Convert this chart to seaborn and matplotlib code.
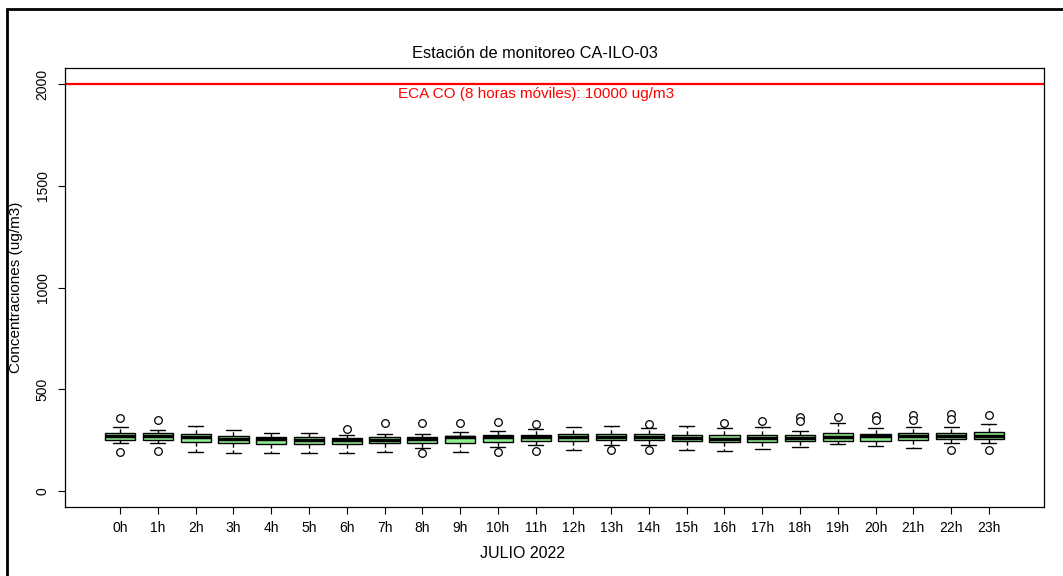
import pandas as pd
import matplotlib.pyplot as plt
import seaborn as sns

# --- Box statistics (ug/m3) ---
hours = [f"{h}h" for h in range(24)]
whisker_low = [233, 233, 193, 188, 187, 185, 187, 190, 210, 190, 215, 224,
               200, 226, 226, 201, 196, 203, 215, 228, 221, 210, 234, 234]
q1 = [252, 249, 242, 234, 229, 229, 228, 234, 236, 236, 241, 246,
      246, 249, 249, 244, 241, 241, 244, 244, 247, 252, 255, 254]
median = [270, 267, 262, 257, 254, 252, 250, 252, 257, 264, 265, 265,
          264, 265, 265, 259, 257, 259, 260, 265, 270, 267, 270, 270]
q3 = [285, 282, 277, 270, 262, 264, 259, 264, 265, 270, 272, 273,
      278, 278, 278, 273, 272, 273, 273, 282, 280, 282, 283, 287]
whisker_high = [316, 300, 321, 301, 285, 282, 275, 277, 278, 288, 296, 303,
                316, 321, 311, 321, 308, 316, 295, 331, 308, 316, 316, 329]

# outliers (hour, value)
outlier_hours = ["0h", "0h", "1h", "1h", "6h", "7h", "8h", "8h", "9h", "10h", "10h",
                 "11h", "11h", "13h", "14h", "14h", "16h", "17h", "18h", "18h",
                 "19h", "20h", "20h", "21h", "21h", "22h", "22h", "22h", "23h", "23h"]
outlier_values = [360, 193, 346, 196, 305, 331, 332, 188, 334, 336, 193,
                  326, 196, 201, 327, 201, 331, 341, 362, 344,
                  364, 370, 349, 373, 350, 377, 352, 198, 373, 198]

eca_limit = 2000
eca_label = "ECA CO (8 horas móviles): 10000 ug/m3"

# --- Build long-form tables ---
rows = []
for i, h in enumerate(hours):
    for v in (whisker_low[i], q1[i], median[i], q3[i], whisker_high[i]):
        rows.append({"hour": h, "value": v})
df_box = pd.DataFrame(rows)
df_out = pd.DataFrame({"hour": outlier_hours, "value": outlier_values})

sns.set_style("ticks")
plt.rcParams['font.family'] = ['Liberation Sans', 'DejaVu Sans']
plt.rcParams['text.color'] = 'black'
plt.rcParams['axes.labelcolor'] = 'black'

W, H = 1063, 576
fig = plt.figure(figsize=(W / 100, H / 100), dpi=100)
ax = fig.add_axes([65 / W, 1 - 507 / H, (1044 - 65) / W, (507 - 68) / H])

sns.boxplot(data=df_box, x="hour", y="value", order=hours, whis=(0, 100),
            width=0.8, color="#90EE90", saturation=1, linecolor="black",
            linewidth=1, fliersize=0, ax=ax,
            whiskerprops=dict(linestyle=(0, (3, 2))),
            medianprops=dict(linewidth=2.5))
sns.stripplot(data=df_out, x="hour", y="value", order=hours, jitter=False,
              color="white", edgecolor="black", linewidth=0.9, size=5.5, ax=ax)

ax.axhline(eca_limit, color="red", lw=1.6)
ax.text(11, eca_limit - 15, eca_label, color="red", ha="center", va="top", fontsize=11)

ax.set_xlim(-1.46, 24.46)
ax.set_ylim(-80, 2080)
ax.set_yticks([0, 500, 1000, 1500, 2000])
ax.set_yticklabels(["0", "500", "1000", "1500", "2000"], rotation=90, va="center")
ax.tick_params(direction="out", length=5, width=0.8, labelsize=10, colors="black")
ax.tick_params(axis="x", pad=5)
ax.tick_params(axis="y", pad=6)
for s in ax.spines.values():
    s.set_visible(True)
    s.set_color("black")
    s.set_linewidth(0.9)

ax.set_title("Estación de monitoreo CA-ILO-03", fontsize=11.8, pad=7, x=(535 - 65) / 979)
ax.set_xlabel("JULIO 2022", fontsize=11.5, labelpad=8)
ax.xaxis.label.set_x((522 - 65) / 979)
ax.set_ylabel("Concentraciones (ug/m3)", fontsize=11, labelpad=9)

# outer frame of the original export
fig.add_artist(plt.Rectangle((7 / W, -0.1), 1.2, (1 - 9 / H) + 0.1,
                             transform=fig.transFigure, fill=False, lw=2, ec="black"))

fig.savefig("out.png", dpi=100)
